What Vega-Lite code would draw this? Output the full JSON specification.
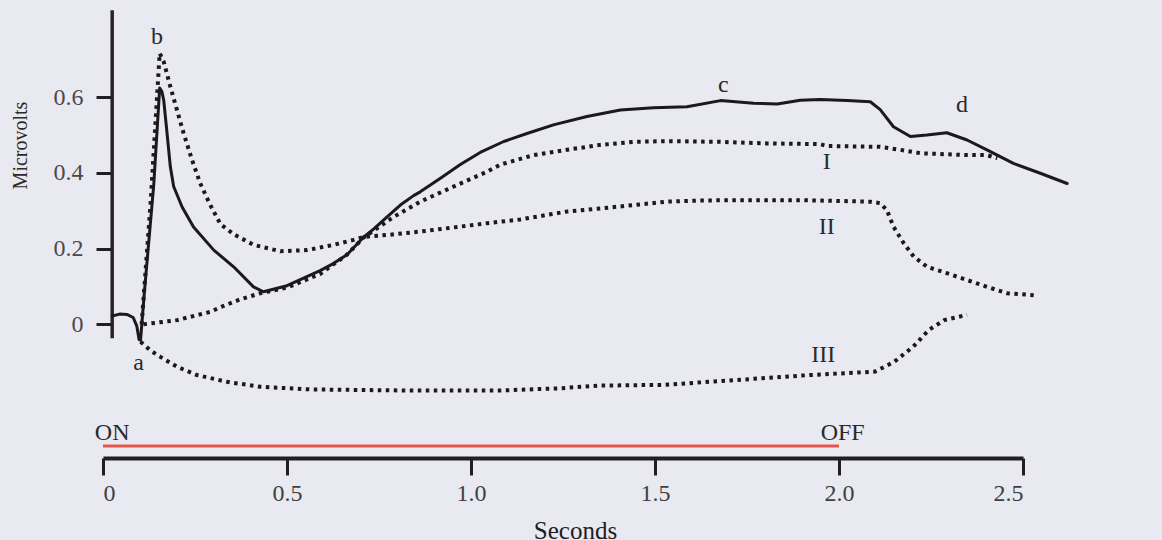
{
  "$schema": "https://vega.github.io/schema/vega-lite/v6.json",
  "autosize": {"type": "none"},
  "padding": {"left": 103, "top": 0, "right": 139, "bottom": 82},
  "width": 920,
  "height": 458,
  "background": "#e9e9f1",
  "config": {
    "view": {"stroke": null},
    "font": "Liberation Serif",
    "text": {"font": "Liberation Serif"}
  },
  "datasets": {
    "trace": [
      {"series": "ERG", "t": 0.025, "v": 0.022},
      {"series": "ERG", "t": 0.045, "v": 0.027},
      {"series": "ERG", "t": 0.065, "v": 0.026},
      {"series": "ERG", "t": 0.082, "v": 0.018},
      {"series": "ERG", "t": 0.092, "v": -0.005},
      {"series": "ERG", "t": 0.098, "v": -0.040},
      {"series": "ERG", "t": 0.102, "v": -0.042},
      {"series": "ERG", "t": 0.112, "v": 0.08},
      {"series": "ERG", "t": 0.138, "v": 0.37},
      {"series": "ERG", "t": 0.154, "v": 0.624},
      {"series": "ERG", "t": 0.160, "v": 0.615},
      {"series": "ERG", "t": 0.165, "v": 0.592},
      {"series": "ERG", "t": 0.174, "v": 0.505},
      {"series": "ERG", "t": 0.183, "v": 0.416},
      {"series": "ERG", "t": 0.192, "v": 0.364},
      {"series": "ERG", "t": 0.215, "v": 0.310},
      {"series": "ERG", "t": 0.246, "v": 0.257},
      {"series": "ERG", "t": 0.301, "v": 0.196},
      {"series": "ERG", "t": 0.355, "v": 0.152},
      {"series": "ERG", "t": 0.409, "v": 0.099},
      {"series": "ERG", "t": 0.436, "v": 0.086},
      {"series": "ERG", "t": 0.500, "v": 0.102},
      {"series": "ERG", "t": 0.554, "v": 0.126},
      {"series": "ERG", "t": 0.590, "v": 0.142},
      {"series": "ERG", "t": 0.627, "v": 0.161},
      {"series": "ERG", "t": 0.663, "v": 0.184},
      {"series": "ERG", "t": 0.708, "v": 0.230},
      {"series": "ERG", "t": 0.736, "v": 0.252},
      {"series": "ERG", "t": 0.772, "v": 0.284},
      {"series": "ERG", "t": 0.808, "v": 0.315},
      {"series": "ERG", "t": 0.844, "v": 0.340},
      {"series": "ERG", "t": 0.862, "v": 0.350},
      {"series": "ERG", "t": 0.917, "v": 0.386},
      {"series": "ERG", "t": 0.971, "v": 0.422},
      {"series": "ERG", "t": 1.025, "v": 0.454},
      {"series": "ERG", "t": 1.089, "v": 0.483},
      {"series": "ERG", "t": 1.152, "v": 0.504},
      {"series": "ERG", "t": 1.224, "v": 0.527},
      {"series": "ERG", "t": 1.315, "v": 0.549},
      {"series": "ERG", "t": 1.406, "v": 0.566},
      {"series": "ERG", "t": 1.496, "v": 0.572},
      {"series": "ERG", "t": 1.587, "v": 0.575},
      {"series": "ERG", "t": 1.678, "v": 0.591},
      {"series": "ERG", "t": 1.768, "v": 0.584},
      {"series": "ERG", "t": 1.832, "v": 0.582},
      {"series": "ERG", "t": 1.895, "v": 0.592},
      {"series": "ERG", "t": 1.949, "v": 0.594},
      {"series": "ERG", "t": 2.022, "v": 0.591},
      {"series": "ERG", "t": 2.085, "v": 0.588},
      {"series": "ERG", "t": 2.112, "v": 0.567},
      {"series": "ERG", "t": 2.148, "v": 0.522},
      {"series": "ERG", "t": 2.194, "v": 0.496},
      {"series": "ERG", "t": 2.239, "v": 0.500},
      {"series": "ERG", "t": 2.293, "v": 0.506},
      {"series": "ERG", "t": 2.348, "v": 0.487},
      {"series": "ERG", "t": 2.402, "v": 0.461},
      {"series": "ERG", "t": 2.474, "v": 0.425},
      {"series": "ERG", "t": 2.547, "v": 0.399},
      {"series": "ERG", "t": 2.620, "v": 0.372},

      {"series": "PI", "t": 0.110, "v": 0.0},
      {"series": "PI", "t": 0.201, "v": 0.011},
      {"series": "PI", "t": 0.292, "v": 0.033},
      {"series": "PI", "t": 0.319, "v": 0.045},
      {"series": "PI", "t": 0.373, "v": 0.066},
      {"series": "PI", "t": 0.427, "v": 0.082},
      {"series": "PI", "t": 0.500, "v": 0.097},
      {"series": "PI", "t": 0.590, "v": 0.133},
      {"series": "PI", "t": 0.663, "v": 0.184},
      {"series": "PI", "t": 0.708, "v": 0.229},
      {"series": "PI", "t": 0.790, "v": 0.284},
      {"series": "PI", "t": 0.862, "v": 0.324},
      {"series": "PI", "t": 0.953, "v": 0.364},
      {"series": "PI", "t": 1.043, "v": 0.403},
      {"series": "PI", "t": 1.080, "v": 0.422},
      {"series": "PI", "t": 1.170, "v": 0.447},
      {"series": "PI", "t": 1.261, "v": 0.461},
      {"series": "PI", "t": 1.351, "v": 0.474},
      {"series": "PI", "t": 1.442, "v": 0.482},
      {"series": "PI", "t": 1.532, "v": 0.484},
      {"series": "PI", "t": 1.678, "v": 0.482},
      {"series": "PI", "t": 1.804, "v": 0.478},
      {"series": "PI", "t": 1.949, "v": 0.476},
      {"series": "PI", "t": 1.967, "v": 0.471},
      {"series": "PI", "t": 2.112, "v": 0.469},
      {"series": "PI", "t": 2.166, "v": 0.461},
      {"series": "PI", "t": 2.221, "v": 0.452},
      {"series": "PI", "t": 2.348, "v": 0.447},
      {"series": "PI", "t": 2.402, "v": 0.447},
      {"series": "PI", "t": 2.430, "v": 0.439},

      {"series": "PII", "t": 0.105, "v": 0.0},
      {"series": "PII", "t": 0.130, "v": 0.33},
      {"series": "PII", "t": 0.154, "v": 0.716},
      {"series": "PII", "t": 0.165, "v": 0.694},
      {"series": "PII", "t": 0.183, "v": 0.628},
      {"series": "PII", "t": 0.201, "v": 0.566},
      {"series": "PII", "t": 0.219, "v": 0.505},
      {"series": "PII", "t": 0.242, "v": 0.434},
      {"series": "PII", "t": 0.264, "v": 0.373},
      {"series": "PII", "t": 0.290, "v": 0.318},
      {"series": "PII", "t": 0.319, "v": 0.265},
      {"series": "PII", "t": 0.355, "v": 0.238},
      {"series": "PII", "t": 0.409, "v": 0.210},
      {"series": "PII", "t": 0.482, "v": 0.193},
      {"series": "PII", "t": 0.554, "v": 0.196},
      {"series": "PII", "t": 0.627, "v": 0.210},
      {"series": "PII", "t": 0.681, "v": 0.223},
      {"series": "PII", "t": 0.708, "v": 0.231},
      {"series": "PII", "t": 0.772, "v": 0.236},
      {"series": "PII", "t": 0.862, "v": 0.245},
      {"series": "PII", "t": 0.953, "v": 0.256},
      {"series": "PII", "t": 1.043, "v": 0.267},
      {"series": "PII", "t": 1.134, "v": 0.277},
      {"series": "PII", "t": 1.261, "v": 0.298},
      {"series": "PII", "t": 1.351, "v": 0.306},
      {"series": "PII", "t": 1.442, "v": 0.315},
      {"series": "PII", "t": 1.532, "v": 0.324},
      {"series": "PII", "t": 1.623, "v": 0.327},
      {"series": "PII", "t": 1.714, "v": 0.328},
      {"series": "PII", "t": 1.895, "v": 0.328},
      {"series": "PII", "t": 2.085, "v": 0.324},
      {"series": "PII", "t": 2.112, "v": 0.320},
      {"series": "PII", "t": 2.130, "v": 0.302},
      {"series": "PII", "t": 2.148, "v": 0.258},
      {"series": "PII", "t": 2.176, "v": 0.214},
      {"series": "PII", "t": 2.203, "v": 0.179},
      {"series": "PII", "t": 2.239, "v": 0.152},
      {"series": "PII", "t": 2.293, "v": 0.135},
      {"series": "PII", "t": 2.348, "v": 0.117},
      {"series": "PII", "t": 2.402, "v": 0.099},
      {"series": "PII", "t": 2.457, "v": 0.082},
      {"series": "PII", "t": 2.529, "v": 0.077},

      {"series": "PIII", "t": 0.102, "v": -0.046},
      {"series": "PIII", "t": 0.130, "v": -0.070},
      {"series": "PIII", "t": 0.156, "v": -0.086},
      {"series": "PIII", "t": 0.201, "v": -0.112},
      {"series": "PIII", "t": 0.255, "v": -0.134},
      {"series": "PIII", "t": 0.337, "v": -0.152},
      {"series": "PIII", "t": 0.427, "v": -0.165},
      {"series": "PIII", "t": 0.563, "v": -0.172},
      {"series": "PIII", "t": 0.835, "v": -0.175},
      {"series": "PIII", "t": 1.073, "v": -0.175},
      {"series": "PIII", "t": 1.243, "v": -0.169},
      {"series": "PIII", "t": 1.343, "v": -0.162},
      {"series": "PIII", "t": 1.524, "v": -0.160},
      {"series": "PIII", "t": 1.723, "v": -0.147},
      {"series": "PIII", "t": 1.921, "v": -0.134},
      {"series": "PIII", "t": 2.098, "v": -0.125},
      {"series": "PIII", "t": 2.150, "v": -0.099},
      {"series": "PIII", "t": 2.202, "v": -0.059},
      {"series": "PIII", "t": 2.244, "v": -0.015},
      {"series": "PIII", "t": 2.286, "v": 0.011},
      {"series": "PIII", "t": 2.348, "v": 0.025}
    ],
    "labels": [
      {"label": "a", "t": 0.097, "v": -0.103},
      {"label": "b", "t": 0.147, "v": 0.760},
      {"label": "c", "t": 1.686, "v": 0.632},
      {"label": "d", "t": 2.334, "v": 0.579},
      {"label": "I", "t": 1.967, "v": 0.430},
      {"label": "II", "t": 1.967, "v": 0.258},
      {"label": "III", "t": 1.957, "v": -0.081},
      {"label": "ON", "t": 0.025, "v": -0.287},
      {"label": "OFF", "t": 2.01, "v": -0.287}
    ],
    "stimulus": [{"start": 0, "end": 2.0, "v": -0.3215}],
    "vaxis": [{"t": 0.025, "lo": -0.037, "hi": 0.83}]
  },
  "layer": [
    {
      "data": {"name": "stimulus"},
      "mark": {"type": "rule", "color": "#e2564c", "strokeWidth": 3},
      "encoding": {
        "x": {"field": "start", "type": "quantitative", "scale": {"domain": [0, 2.5], "nice": false, "zero": false},
          "axis": {
            "values": [0, 0.5, 1, 1.5, 2, 2.5],
            "labelExpr": "datum.value == 0 ? '0' : format(datum.value, '.1f')",
            "grid": false,
            "domainColor": "#231e22", "domainWidth": 4,
            "tickColor": "#231e22", "tickWidth": 3, "tickSize": 17,
            "labelFont": "Liberation Serif", "labelFontSize": 24, "labelColor": "#3f3f3f",
            "labelPadding": 6,
            "title": "Seconds",
            "titleFont": "Liberation Serif", "titleFontSize": 25, "titleFontWeight": "normal", "titleColor": "#1e1e1e",
            "titleX": 472, "titleY": 80, "titleBaseline": "alphabetic"
          }},
        "x2": {"field": "end"},
        "y": {"field": "v", "type": "quantitative",
          "scale": {"domain": [-0.3532, 0.8568], "nice": false, "zero": false},
          "axis": {
            "values": [0, 0.2, 0.4, 0.6],
            "labelExpr": "datum.value == 0 ? '0' : format(datum.value, '.1f')",
            "offset": -9,
            "domain": false, "grid": false,
            "tickColor": "#231e22", "tickWidth": 3, "tickSize": 16,
            "labelFont": "Liberation Serif", "labelFontSize": 24, "labelColor": "#4a4a4a",
            "labelPadding": 13,
            "title": "Microvolts",
            "titleFont": "Liberation Serif", "titleFontSize": 20, "titleFontWeight": "normal", "titleColor": "#2a2a2a",
            "titleAngle": 270, "titleAlign": "center", "titleBaseline": "middle",
            "titleX": -92, "titleY": 145
          }}
      }
    },
    {
      "data": {"name": "vaxis"},
      "mark": {"type": "rule", "color": "#2b2227", "strokeWidth": 3.5},
      "encoding": {
        "x": {"field": "t", "type": "quantitative"},
        "y": {"field": "lo", "type": "quantitative"},
        "y2": {"field": "hi"}
      }
    },
    {
      "data": {"name": "trace"},
      "transform": [{"filter": "datum.series == 'ERG'"}],
      "mark": {"type": "line", "color": "#1c181c", "strokeWidth": 3, "strokeJoin": "round", "strokeCap": "round"},
      "encoding": {
        "x": {"field": "t", "type": "quantitative"},
        "y": {"field": "v", "type": "quantitative"},
        "order": {"field": "t"}
      }
    },
    {
      "data": {"name": "trace"},
      "transform": [{"filter": "datum.series != 'ERG'"}],
      "mark": {"type": "line", "color": "#1c181c", "strokeWidth": 4, "strokeDash": [3.5, 4.5]},
      "encoding": {
        "x": {"field": "t", "type": "quantitative"},
        "y": {"field": "v", "type": "quantitative"},
        "detail": {"field": "series"},
        "order": {"field": "t"}
      }
    },
    {
      "data": {"name": "labels"},
      "mark": {"type": "text", "font": "Liberation Serif", "fontSize": 24, "color": "#2a2a2a", "align": "center", "baseline": "middle"},
      "encoding": {
        "x": {"field": "t", "type": "quantitative"},
        "y": {"field": "v", "type": "quantitative"},
        "text": {"field": "label"}
      }
    }
  ]
}
